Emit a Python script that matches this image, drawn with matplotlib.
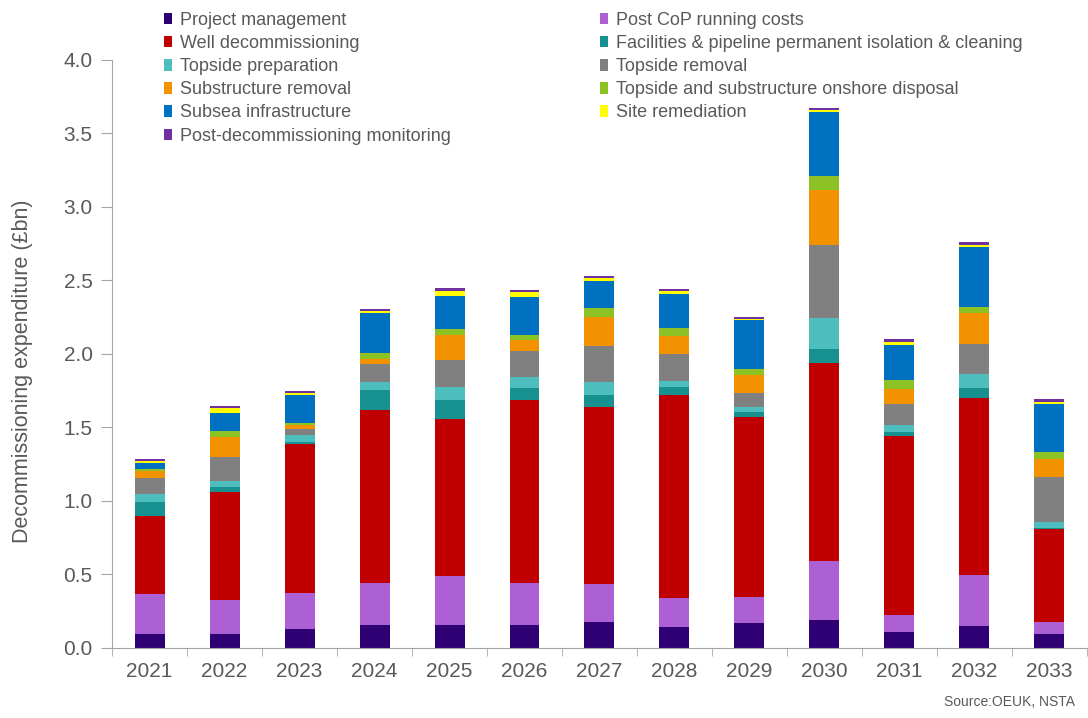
import numpy as np
import matplotlib
matplotlib.use('Agg')
import matplotlib.pyplot as plt
from matplotlib.patches import Patch

years = ['2021', '2022', '2023', '2024', '2025', '2026', '2027',
         '2028', '2029', '2030', '2031', '2032', '2033']

# decommissioning spend by category, £bn
project_mgmt = [0.095, 0.095, 0.129, 0.156, 0.156, 0.156, 0.177, 0.141, 0.172, 0.190, 0.107, 0.150, 0.095]
post_cop = [0.270, 0.229, 0.247, 0.288, 0.334, 0.288, 0.261, 0.197, 0.173, 0.402, 0.117, 0.347, 0.084]
well_decom = [0.535, 0.739, 1.012, 1.173, 1.070, 1.245, 1.199, 1.383, 1.224, 1.349, 1.221, 1.201, 0.631]
facilities = [0.090, 0.034, 0.016, 0.140, 0.129, 0.077, 0.084, 0.055, 0.036, 0.091, 0.027, 0.068, 0.008]
topside_prep = [0.060, 0.041, 0.045, 0.055, 0.089, 0.075, 0.089, 0.038, 0.032, 0.215, 0.045, 0.098, 0.041]
topside_removal = [0.107, 0.159, 0.041, 0.122, 0.181, 0.177, 0.244, 0.186, 0.095, 0.494, 0.143, 0.204, 0.307]
substructure = [0.047, 0.141, 0.025, 0.034, 0.170, 0.079, 0.200, 0.122, 0.125, 0.375, 0.100, 0.209, 0.117]
onshore_disposal = [0.011, 0.040, 0.018, 0.041, 0.039, 0.034, 0.059, 0.055, 0.039, 0.097, 0.064, 0.045, 0.048]
subsea = [0.045, 0.118, 0.188, 0.272, 0.229, 0.255, 0.186, 0.231, 0.335, 0.431, 0.236, 0.404, 0.329]
site_remediation = [0.014, 0.034, 0.016, 0.014, 0.034, 0.038, 0.018, 0.018, 0.009, 0.016, 0.022, 0.015, 0.016]
monitoring = [0.009, 0.014, 0.011, 0.013, 0.016, 0.014, 0.014, 0.018, 0.014, 0.011, 0.019, 0.019, 0.016]

series = [
    ('Project management', project_mgmt, '#2e0073'),
    ('Post CoP running costs', post_cop, '#ad5fd4'),
    ('Well decommissioning', well_decom, '#c00000'),
    ('Facilities & pipeline permanent isolation & cleaning', facilities, '#16918f'),
    ('Topside preparation', topside_prep, '#4dbdbd'),
    ('Topside removal', topside_removal, '#808080'),
    ('Substructure removal', substructure, '#f39200'),
    ('Topside and substructure onshore disposal', onshore_disposal, '#8cc224'),
    ('Subsea infrastructure', subsea, '#0070c0'),
    ('Site remediation', site_remediation, '#ffff00'),
    ('Post-decommissioning monitoring', monitoring, '#7030a0'),
]

grey = '#595959'
plt.rcParams['font.family'] = ['Liberation Sans', 'DejaVu Sans']

fig = plt.figure(figsize=(10.88, 7.18), dpi=100)
ax = fig.add_axes([0.103, 0.0975, 0.896, 0.819])

x = np.arange(len(years))
bottom = np.zeros(len(years))
for name, vals, col in series:
    vals = np.array(vals)
    ax.bar(x, vals, width=0.4, bottom=bottom, color=col, label=name)
    bottom += vals

ax.set_xlim(-0.5, len(years) - 0.5)
ax.set_ylim(0, 4.0)
ax.set_yticks(np.arange(0, 4.01, 0.5))
ax.set_yticklabels([f'{v:.1f}' for v in np.arange(0, 4.01, 0.5)])
ax.set_xticks(x)
ax.set_xticklabels(years)
ax.set_xticks(np.arange(-0.5, len(years)), minor=True)
ax.tick_params(axis='x', which='major', length=0, labelsize=15, labelcolor=grey, pad=10)
ax.tick_params(axis='x', which='minor', length=6, color='#a6a6a6')
ax.tick_params(axis='y', length=8, color='#a6a6a6', labelsize=15, labelcolor=grey, pad=6)
for s in ['top', 'right']:
    ax.spines[s].set_visible(False)
for s in ['left', 'bottom']:
    ax.spines[s].set_color('#a6a6a6')
ax.set_ylabel('Decommissioning expenditure (£bn)', fontsize=15.5, color=grey,
              va='center')
ax.yaxis.set_label_coords(-0.092, 0.47)

# legend: first column then second column
order = [0, 2, 4, 6, 8, 10, 1, 3, 5, 7, 9]
handles = [Patch(facecolor=series[i][2], edgecolor='none') for i in order]
labels = [series[i][0] for i in order]
leg = fig.legend(handles, labels, ncol=2, loc='upper left', bbox_to_anchor=(0.136, 1.006),
                 frameon=False, handlelength=0.45, handleheight=0.6,
                 handletextpad=0.4, labelspacing=0.34, columnspacing=8.3,
                 prop={'family': ['Liberation Sans Narrow', 'Liberation Sans'], 'size': 13})
for t in leg.get_texts():
    t.set_color(grey)

fig.text(0.988, 0.012, 'Source:OEUK, NSTA', ha='right', va='bottom', fontsize=10, color=grey)

fig.savefig('out.png', dpi=100)
